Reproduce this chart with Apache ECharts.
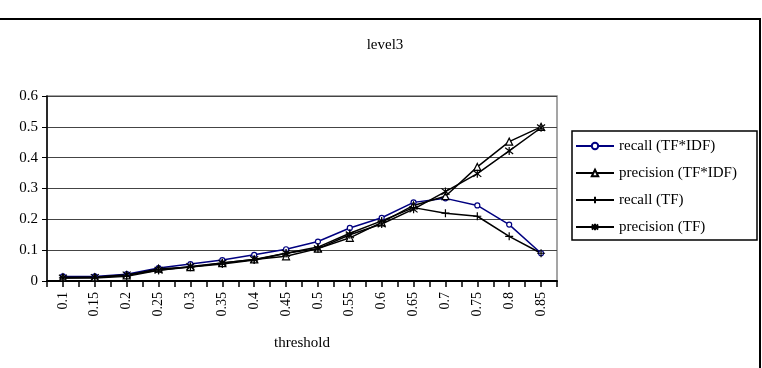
<!DOCTYPE html>
<html>
<head>
<meta charset="utf-8">
<script src="https://cdn.jsdelivr.net/npm/echarts@6/dist/echarts.min.js"></script>
<style>
html,body{margin:0;padding:0;background:#fff;}
#chart{width:762px;height:368px;}
</style>
</head>
<body>
<div id="chart"></div>
<script>
var thresholds = ['0.1','0.15','0.2','0.25','0.3','0.35','0.4','0.45','0.5','0.55','0.6','0.65','0.7','0.75','0.8','0.85'];
var recallTfIdf = [0.015,0.015,0.022,0.042,0.055,0.068,0.085,0.103,0.128,0.172,0.205,0.255,0.268,0.245,0.183,0.09];
var precisionTfIdf = [0.012,0.012,0.018,0.040,0.045,0.058,0.070,0.080,0.105,0.140,0.190,0.245,0.275,0.370,0.452,0.500];
var recallTf = [0.010,0.010,0.015,0.035,0.045,0.055,0.068,0.090,0.110,0.155,0.195,0.238,0.220,0.210,0.145,0.090];
var precisionTf = [0.010,0.012,0.020,0.035,0.047,0.058,0.070,0.090,0.105,0.150,0.185,0.233,0.290,0.348,0.422,0.497];
var yTicks = ['0','0.1','0.2','0.3','0.4','0.5','0.6'];

var serif = '"Liberation Serif", "DejaVu Serif", serif';
var plusPath = 'path://M0,5L10,5M5,0L5,10';
var starPath = 'path://M1,1L9,9M9,1L1,9M5,0L5,10';

function mkSeries(name, data, color, symbol, size) {
	var isPath = symbol.indexOf('path') === 0;
	return {
		name: name,
		type: 'line',
		data: data,
		symbol: symbol,
		symbolSize: size,
		showAllSymbol: true,
		lineStyle: { color: color, width: 1.5 },
		itemStyle: { color: isPath ? color : '#fff', borderColor: color, borderWidth: 1.2 },
		emphasis: { disabled: true },
		animation: false
	};
}

var option = {
	backgroundColor: '#fff',
	animation: false,
	title: {
		text: 'level3',
		left: 380,
		top: 33,
		textAlign: 'center',
		textStyle: { fontFamily: serif, fontSize: 15, fontWeight: 'normal', color: '#000' }
	},
	legend: {
		orient: 'vertical',
		left: 575,
		top: 138,
		padding: 0,
		itemGap: 11,
		itemWidth: 38,
		itemHeight: 8,
		textStyle: { fontFamily: serif, fontSize: 15, color: '#000', lineHeight: 16 },
		data: ['recall (TF*IDF)', 'precision (TF*IDF)', 'recall (TF)', 'precision (TF)']
	},
	grid: {
		left: 47, right: 205, top: 96, bottom: 87,
		show: true,
		borderColor: '#888',
		borderWidth: 1.5,
		backgroundColor: '#fff'
	},
	xAxis: [{
		type: 'category',
		data: thresholds,
		boundaryGap: true,
		name: 'threshold',
		nameLocation: 'middle',
		nameGap: 55,
		nameTextStyle: { fontFamily: serif, fontSize: 15, color: '#000' },
		axisLine: { lineStyle: { color: '#000', width: 2 } },
		axisTick: { show: true, interval: 0, length: 6, lineStyle: { color: '#000', width: 1.5 } },
		axisLabel: { interval: 0, rotate: 90, margin: 11, fontFamily: serif, fontSize: 14, color: '#000' }
	}, {
		type: 'category',
		data: thresholds,
		boundaryGap: true,
		position: 'bottom',
		axisLine: { show: false },
		axisTick: { show: true, interval: 0, alignWithLabel: true, length: 6, lineStyle: { color: '#000', width: 1.5 } },
		axisLabel: { show: false }
	}],
	yAxis: {
		type: 'value',
		min: 0,
		max: 0.6,
		interval: 0.1,
		axisLine: { show: true, lineStyle: { color: '#000', width: 1.5 } },
		axisTick: { show: true, length: 5, lineStyle: { color: '#000' } },
		axisLabel: {
			margin: 9,
			fontFamily: serif,
			fontSize: 15,
			color: '#000',
			formatter: function (v) { return yTicks[Math.round(v * 10)]; }
		},
		splitLine: { show: true, lineStyle: { color: '#444', width: 1 } }
	},
	graphic: [{
		type: 'rect',
		shape: { x: -5, y: 19, width: 765, height: 400 },
		style: { fill: 'none', stroke: '#000', lineWidth: 2 },
		silent: true,
		z: 100
	}, {
		type: 'rect',
		shape: { x: 572, y: 131, width: 185, height: 109 },
		style: { fill: 'none', stroke: '#000', lineWidth: 1.5 },
		silent: true,
		z: 100
	}],
	series: [
		mkSeries('recall (TF*IDF)', recallTfIdf, '#000080', 'circle', 5),
		mkSeries('precision (TF*IDF)', precisionTfIdf, '#000', 'triangle', 7),
		mkSeries('recall (TF)', recallTf, '#000', plusPath, 8),
		mkSeries('precision (TF)', precisionTf, '#000', starPath, 8)
	]
};

var chart = echarts.init(document.getElementById('chart'), null, { renderer: 'canvas' });
chart.setOption(option);
</script>
</body>
</html>
